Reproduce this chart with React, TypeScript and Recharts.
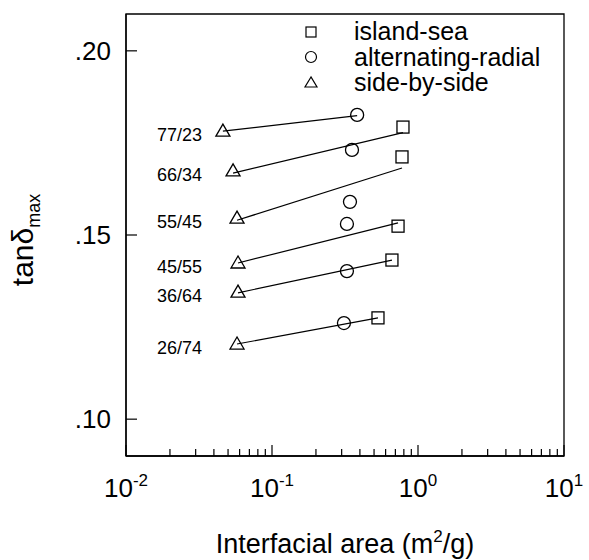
import React from 'react';
import { ScatterChart, Scatter, XAxis, YAxis, Legend, ReferenceArea } from 'recharts';

const FONT = '"Liberation Sans", Arial, Helvetica, sans-serif';

// blend ratios (one per fit line / side-by-side point)
const blends = ['77/23', '66/34', '55/45', '45/55', '36/64', '26/74'];

// side-by-side (triangles)
const sideBySideX = [0.0461, 0.0541, 0.0576, 0.0585, 0.0585, 0.0576];
const sideBySideY = [0.1782, 0.1674, 0.1546, 0.1424, 0.1345, 0.1204];

// alternating-radial (circles)
const altRadialX = [0.383, 0.353, 0.342, 0.326, 0.326, 0.311];
const altRadialY = [0.1826, 0.1731, 0.159, 0.153, 0.1402, 0.1261];

// island-sea (squares)
const islandSeaX = [0.789, 0.777, 0.73, 0.663, 0.532];
const islandSeaY = [0.1793, 0.1712, 0.1524, 0.1432, 0.1275];

// fitted lines per blend
const fitStartX = [0.0461, 0.0541, 0.0576, 0.0585, 0.0585, 0.0576];
const fitStartY = [0.1782, 0.1668, 0.154, 0.1424, 0.1343, 0.1204];
const fitEndX = [0.383, 0.789, 0.777, 0.73, 0.663, 0.532];
const fitEndY = [0.1824, 0.1778, 0.1682, 0.1533, 0.1432, 0.1275];

// axes
const xDecades = [0.01, 0.1, 1, 10];
const xMinorMultipliers = [2, 3, 4, 5, 6, 7, 8, 9];
const yTicks = [0.1, 0.15, 0.2];
const xDomain = [0.01, 10];
const yDomain = [0.09, 0.21];

const seriesNames = ['island-sea', 'alternating-radial', 'side-by-side'];

const xTicks: number[] = [];
xDecades.forEach((d, i) => {
  xTicks.push(d);
  if (i < xDecades.length - 1) xMinorMultipliers.forEach((m) => xTicks.push(+(d * m).toPrecision(6)));
});

const sideData = sideBySideX.map((x, i) => ({ x, y: sideBySideY[i], blend: blends[i] }));
const altData = altRadialX.map((x, i) => ({ x, y: altRadialY[i] }));
const islandData = islandSeaX.map((x, i) => ({ x, y: islandSeaY[i] }));
const fitData = blends.map((b, i) => [
  { x: fitStartX[i], y: fitStartY[i] },
  { x: fitEndX[i], y: fitEndY[i] },
]);

const SW = 1.3;
const LABEL_X = 157;

const SquareShape = (p: any) => (
  <rect x={p.cx - 6} y={p.cy - 6} width={12} height={12} fill="none" stroke="#000" strokeWidth={SW} />
);
const CircleShape = (p: any) => (
  <circle cx={p.cx} cy={p.cy} r={6.5} fill="none" stroke="#000" strokeWidth={SW} />
);
const TriangleShape = (p: any) => (
  <g>
    <polygon
      points={`${p.cx},${p.cy - 7} ${p.cx - 7},${p.cy + 5} ${p.cx + 7},${p.cy + 5}`}
      fill="none"
      stroke="#000"
      strokeWidth={SW}
    />
    <text x={LABEL_X} y={p.cy + 10} fontSize={18} fontFamily={FONT} fill="#000">
      {p.payload?.blend ?? p.blend}
    </text>
  </g>
);
const NoShape = () => <g />;

const XTick = (props: any) => {
  const { x, y, payload } = props;
  const v = payload.value;
  const lg = Math.log10(v);
  const exp = Math.round(lg);
  const major = Math.abs(lg - exp) < 1e-6;
  const len = major ? 11 : 7;
  return (
    <g>
      <line x1={x} x2={x} y1={y} y2={y - len} stroke="#000" strokeWidth={1.2} />
      {major && (
        <text x={x} y={y + 41} textAnchor="middle" fontSize={26} fontFamily={FONT} fill="#000">
          10
          <tspan fontSize={17} dy={-11}>
            {String(exp)}
          </tspan>
        </text>
      )}
    </g>
  );
};

const YTick = (props: any) => {
  const { x, y, payload } = props;
  const label = payload.value.toFixed(2).replace(/^0/, '');
  return (
    <g>
      <line x1={x} x2={x + 11} y1={y} y2={y} stroke="#000" strokeWidth={1.2} />
      <text x={x - 15} y={y + 9} textAnchor="end" fontSize={26} fontFamily={FONT} fill="#000">
        {label}
      </text>
    </g>
  );
};

const markerFor = (type: string) => {
  if (type === 'square') return <rect x={5} y={7} width={10} height={10} fill="none" stroke="#000" strokeWidth={1.2} />;
  if (type === 'circle') return <circle cx={10} cy={12} r={5.5} fill="none" stroke="#000" strokeWidth={1.2} />;
  return <polygon points="10,6 4,16 16,16" fill="none" stroke="#000" strokeWidth={1.2} />;
};

const LegendContent = (props: any) => {
  const payload = (props.payload || [])
    .filter((e: any) => e.type !== 'none' && seriesNames.includes(e.value))
    .sort((a: any, b: any) => seriesNames.indexOf(a.value) - seriesNames.indexOf(b.value));
  return (
    <div style={{ fontFamily: FONT, fontSize: 25, color: '#000' }}>
      {payload.map((e: any) => (
        <div key={e.value} style={{ display: 'flex', alignItems: 'center', height: 25.5 }}>
          <svg width={53} height={24} style={{ display: 'block', marginLeft: 1 }}>
            {markerFor(e.type)}
          </svg>
          <span style={{ lineHeight: '25px' }}>{e.value}</span>
        </div>
      ))}
    </div>
  );
};

const XTitle = (p: any) => {
  const vb = p.viewBox || { x: 126, width: 438, y: 456 };
  return (
    <text x={vb.x + vb.width / 2} y={553} textAnchor="middle" fontSize={27} fontFamily={FONT} fill="#000">
      Interfacial area (m
      <tspan fontSize={17} dy={-11}>
        2
      </tspan>
      <tspan dy={11}>/g)</tspan>
    </text>
  );
};

const YTitle = () => (
  <text transform="translate(33,240) rotate(-90)" textAnchor="middle" fontSize={30} fontFamily={FONT} fill="#000">
    tanδ
    <tspan fontSize={18} dy={7}>
      max
    </tspan>
  </text>
);

export default function App() {
  return (
    <div style={{ position: 'absolute', left: 0, top: 0, width: 589, height: 560, background: '#fff' }}>
      <ScatterChart width={589} height={560} margin={{ top: 14, right: 25, left: 66, bottom: 44 }}>
        <XAxis
          dataKey="x"
          type="number"
          scale="log"
          domain={xDomain}
          allowDataOverflow
          ticks={xTicks}
          interval={0}
          tickSize={0}
          tickMargin={0}
          tickLine={false}
          tick={<XTick />}
          height={60}
          axisLine={{ stroke: '#000', strokeWidth: 1.3 }}
          label={<XTitle />}
        />
        <YAxis
          dataKey="y"
          type="number"
          domain={yDomain}
          allowDataOverflow
          ticks={yTicks}
          interval={0}
          tickSize={0}
          tickMargin={0}
          tickLine={false}
          tick={<YTick />}
          width={60}
          axisLine={{ stroke: '#000', strokeWidth: 1.3 }}
          label={<YTitle />}
        />
        <ReferenceArea
          x1={xDomain[0]}
          x2={xDomain[1]}
          y1={yDomain[0]}
          y2={yDomain[1]}
          fill="none"
          fillOpacity={0}
          stroke="#000"
          strokeWidth={1.3}
          ifOverflow="visible"
        />
        <Legend
          layout="vertical"
          align="center"
          verticalAlign="middle"
          wrapperStyle={{ position: 'absolute', left: 300, top: 19, width: 270, height: 80 }}
          content={<LegendContent />}
        />
        {fitData.map((d, i) => (
          <Scatter
            key={blends[i]}
            name={'fit ' + blends[i]}
            data={d}
            line={{ stroke: '#000', strokeWidth: 1.2 }}
            shape={NoShape}
            legendType="none"
            isAnimationActive={false}
          />
        ))}
        <Scatter
          name={seriesNames[0]}
          data={islandData}
          shape={SquareShape}
          legendType="square"
          isAnimationActive={false}
        />
        <Scatter
          name={seriesNames[1]}
          data={altData}
          shape={CircleShape}
          legendType="circle"
          isAnimationActive={false}
        />
        <Scatter
          name={seriesNames[2]}
          data={sideData}
          shape={TriangleShape}
          legendType="triangle"
          isAnimationActive={false}
        />
      </ScatterChart>
    </div>
  );
}
